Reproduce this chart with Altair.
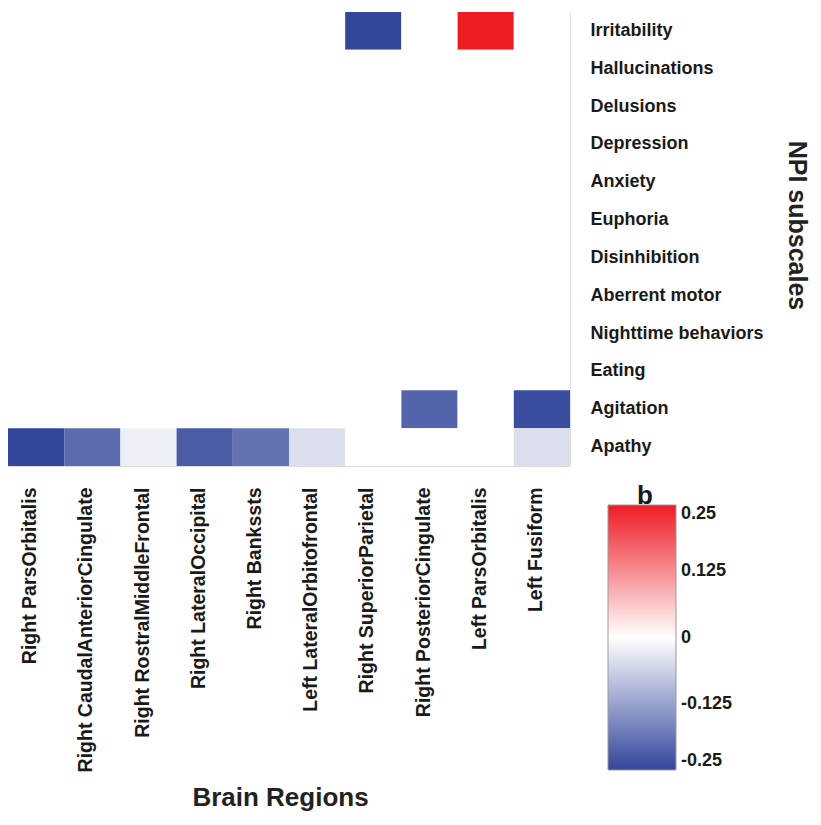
import altair as alt
import pandas as pd

regions = ["Right ParsOrbitalis", "Right CaudalAnteriorCingulate", "Right RostralMiddleFrontal",
           "Right LateralOccipital", "Right Bankssts", "Left LateralOrbitofrontal",
           "Right SuperiorParietal", "Right PosteriorCingulate", "Left ParsOrbitalis", "Left Fusiform"]
npi = ["Irritability", "Hallucinations", "Delusions", "Depression", "Anxiety", "Euphoria",
       "Disinhibition", "Aberrent motor", "Nighttime behaviors", "Eating", "Agitation", "Apathy"]

irritability = [0, 0, 0, 0, 0, 0, -0.25, 0, 0.25, 0]
agitation = [0, 0, 0, 0, 0, 0, 0, -0.21, 0, -0.24]
apathy = [-0.25, -0.20, -0.022, -0.22, -0.19, -0.045, 0, 0, 0, -0.045]
zeros = [0] * 10

matrix = {
    "Irritability": irritability, "Hallucinations": zeros, "Delusions": zeros,
    "Depression": zeros, "Anxiety": zeros, "Euphoria": zeros, "Disinhibition": zeros,
    "Aberrent motor": zeros, "Nighttime behaviors": zeros, "Eating": zeros,
    "Agitation": agitation, "Apathy": apathy,
}

rows = []
for n in npi:
    for r, v in zip(regions, matrix[n]):
        rows.append({"region": r, "npi": n, "value": v})
df = pd.DataFrame(rows)

FONT = "Liberation Sans"

heat = alt.Chart(df).mark_rect().encode(
    x=alt.X("region:N", sort=regions,
            scale=alt.Scale(paddingInner=0, paddingOuter=0),
            axis=alt.Axis(title="Brain Regions", labelAngle=-90, labelAlign="right",
                          labelBaseline="middle", labelFontSize=19.5, labelFont=FONT,
                          labelFontWeight="bold", labelColor="#1a1a1a", labelPadding=21,
                          labelOffset=-6, ticks=False, domain=False, grid=False,
                          domainColor="transparent", tickColor="transparent",
                          gridColor="transparent", labelLimit=400,
                          titleFontSize=26, titleFont=FONT, titleFontWeight="bold",
                          titleColor="#222222", titleBaseline="alphabetic",
                          titleY=339, titleX=272)),
    y=alt.Y("npi:N", sort=npi,
            scale=alt.Scale(paddingInner=0, paddingOuter=0),
            axis=alt.Axis(title="NPI subscales", orient="right", labelFontSize=18,
                          labelFont=FONT, labelFontWeight="bold", labelColor="#1a1a1a",
                          labelPadding=20, ticks=False, domain=False, grid=False,
                          domainColor="transparent", tickColor="transparent",
                          gridColor="transparent", labelLimit=300,
                          titleFontSize=25, titleFont=FONT, titleFontWeight="bold",
                          titleColor="#222222", titleAngle=90, titleBaseline="middle",
                          titleAlign="center", titleX=226, titleY=213)),
    color=alt.Color("value:Q",
                    scale=alt.Scale(domain=[-0.25, 0.25], domainMid=0,
                                    range=["#33469b", "#ffffff", "#ee1c25"],
                                    interpolate="rgb", clamp=True),
                    legend=alt.Legend(title=None, orient="none", legendX=600, legendY=493,
                                      direction="vertical", gradientLength=265,
                                      gradientThickness=68, gradientStrokeColor="#9a9a9a",
                                      gradientStrokeWidth=1,
                                      values=[0.25, 0.125, 0, -0.125, -0.25],
                                      labelExpr="toString(datum.value)",
                                      labelFontSize=18, labelFont=FONT,
                                      labelFontWeight="bold", labelColor="#1a1a1a",
                                      labelOffset=5, labelOverlap=False)),
)

b_label = alt.Chart(pd.DataFrame({"t": ["b"]})).mark_text(
    font=FONT, fontSize=26, fontWeight="bold", color="#1a1a1a", baseline="bottom"
).encode(text="t:N", x=alt.value(637), y=alt.value(497))

chart = alt.layer(heat, b_label).properties(
    width=562, height=454,
    autosize=alt.AutoSizeParams(type="none"),
    padding={"left": 0, "top": 4, "right": 243, "bottom": 347},
).configure_view(stroke="transparent", strokeWidth=0).configure_axis(
    domain=False, ticks=False, grid=False, domainColor="transparent",
    tickColor="transparent", gridColor="transparent"
).configure(background="white")

chart.save("out.html", embed_options={"renderer": "svg", "actions": False})
